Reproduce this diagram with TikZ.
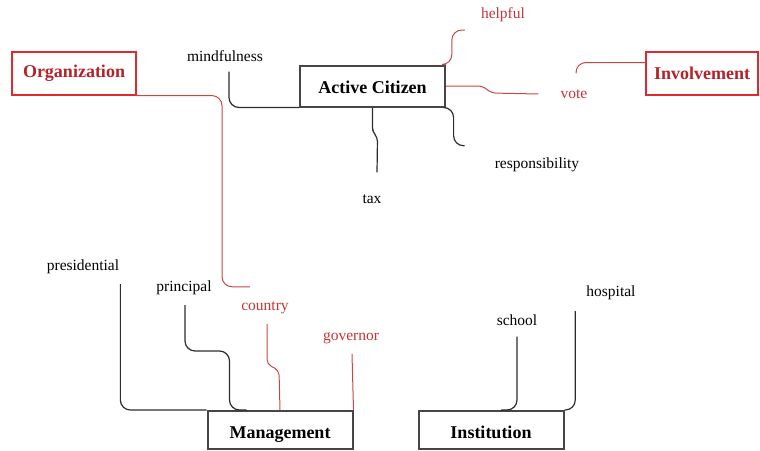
\documentclass[tikz,border=0pt]{standalone}
\usepackage{fontspec}
\setmainfont{Liberation Serif}
\usetikzlibrary{positioning, calc}
\definecolor{mydark}{RGB}{45,45,45}
\definecolor{boxgray}{RGB}{70,70,70}
\definecolor{boxred}{RGB}{228,40,45}
\definecolor{txtred}{RGB}{178,34,40}
\definecolor{wordred}{RGB}{196,52,52}
\definecolor{linered}{RGB}{200,70,72}
\tikzset{
  topic/.style={rectangle, draw=boxgray, line width=2pt,
    minimum width=145pt, minimum height=41pt, inner sep=2pt,
    text height=14pt, text depth=0pt,
    font=\fontsize{18}{20}\selectfont\bfseries},
  redtopic/.style={rectangle, draw=boxred, line width=1.2pt, text=txtred,
    minimum height=43pt, inner sep=2pt,
    font=\fontsize{18}{20}\selectfont\bfseries},
  word/.style={inner sep=2pt, font=\fontsize{15.5}{18}\selectfont},
  redword/.style={word, text=wordred},
  link/.style={line width=1.2pt, color=mydark, rounded corners=10pt},
  redlink/.style={line width=1pt, color=linered, rounded corners=10pt}
}
\begin{document}
\begin{tikzpicture}[x=1pt, y=-1pt]
  \useasboundingbox (0,0) rectangle (760,450);
  % topics
  \node[topic] (cit) at (372.5,86) {Active Citizen};
  \node[topic, minimum height=38pt, text height=16pt] (man) at (280,430) {Management};
  \node[topic, minimum height=38pt, text height=16pt] (inst) at (491,430) {Institution};
  \node[redtopic, minimum width=124pt] (org) at (74,73.5) {Organization};
  \node[redtopic, minimum width=112pt] (inv) at (702,73.5) {Involvement};
  % words
  \node[word] (mind) at (225,56) {mindfulness};
  \node[word] (tax) at (372,199) {tax};
  \node[word] (resp) at (537,165) {responsibility};
  \node[redword] (help) at (503,15) {helpful};
  \node[redword] (vote) at (574,94) {vote};
  \node[word] (pres) at (83,267) {presidential};
  \node[word] (prin) at (184,288) {principal};
  \node[redword] (country) at (265,308) {country};
  \node[redword] (gov) at (351,338) {governor};
  \node[word] (school) at (517,320) {school};
  \node[word] (hosp) at (611,293) {hospital};
  % active citizen
  \draw[link] ($(mind.south)+(4,8)$) |- (cit.south west);
  \draw[link, rounded corners=4pt] (cit.south) -- ++(0,24) -- ++(5,6)
    -- ($(tax.north)+(5,-20)$);
  \draw[link] (cit.south east) -| ($(resp.north west)+(-39,-10)$)
    -- ($(resp.north west)+(-28,-10)$);
  \draw[redlink] (cit.north east) -| ($(help.west)+(-27,15)$)
    -- ($(help.west)+(-14,15)$);
  \draw[redlink, rounded corners=5pt] (cit.east) -- ++(37,0) -- ++(8,7)
    -- ($(vote.west)+(-20,0)$);
  \draw[redlink] ($(inv.west)+(0,-11)$) -| ($(vote.north)+(2,-14)$);
  \draw[redlink] (org.south east) -| ($(country.north)+(-43,-13)$)
    -- ($(country.north)+(-15,-13)$);
  % management
  \draw[link] ($(pres.south east)+(-1,8)$) |- (man.north west);
  \draw[link] ($(prin.south)+(1,8)$) |- ($(man.north west)+(23,-59)$)
    |- ($(man.north west)+(40,0)$);
  \draw[redlink, rounded corners=5pt] ($(country.south)+(2,8)$) -- ++(0,40)
    -- ++(12,6) -- (man.north);
  \draw[redlink] ($(gov.south)+(1,8)$) -- (man.north east);
  % institution
  \draw[link] ($(school.south)+(0,9)$) |- ($(inst.north)+(10,0)$);
  \draw[link] ($(hosp.south west)+(-9,9)$) |- (inst.north east);
\end{tikzpicture}
\end{document}
